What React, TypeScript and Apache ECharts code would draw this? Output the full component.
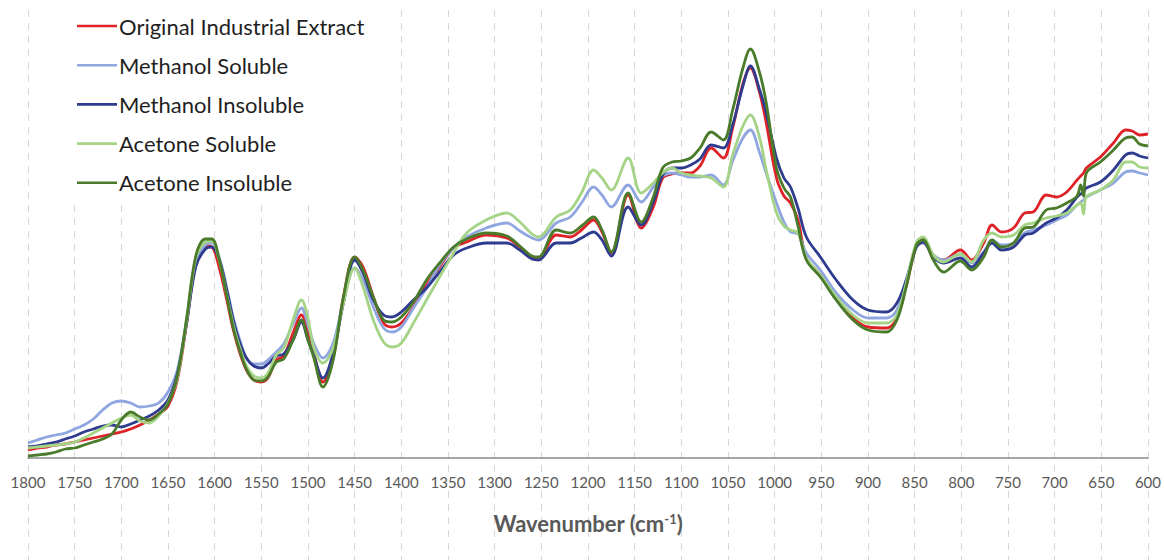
import React, { useEffect, useRef } from "react";
import * as echarts from "echarts";

// Wavenumber (cm-1) sample positions shared by all spectra
const wavenumbers = [
  1800, 1790, 1780, 1770, 1760, 1750, 1740, 1730, 1720, 1710, 1700, 1690, 1680, 1670, 1660, 1650, 1640, 1630, 1620, 1610,
  1603, 1595, 1587, 1580, 1573, 1566, 1558, 1550, 1543, 1534, 1526, 1516, 1507, 1500, 1494, 1484, 1473, 1462, 1450, 1441,
  1430, 1419, 1410, 1400, 1387, 1373, 1359, 1344, 1330, 1309, 1287, 1273, 1260, 1253, 1234, 1219, 1207, 1194, 1185, 1175,
  1157, 1143, 1130, 1120, 1110, 1100, 1090, 1080, 1068, 1055, 1045, 1034, 1026, 1016, 1009, 998, 990, 983, 975, 966,
  951, 934, 916, 900, 880, 869, 859, 848, 841, 830, 819, 801, 789, 776, 767, 757, 744, 732, 723, 709,
  698, 687, 676, 672, 669, 666, 651, 637, 624, 617, 609, 600,
];

// Absorbance (arbitrary units) for each fraction
const originalExtract = [
  8, 10, 11, 13, 14, 16, 18, 20, 22, 24, 26, 29, 33, 38, 44, 52, 78, 135, 195, 212,
  211, 190, 158, 128, 105, 88, 78, 76, 80, 98, 102, 125, 143, 125, 105, 76, 101, 161, 201, 191,
  161, 135, 131, 135, 151, 173, 191, 210, 216, 223, 220, 211, 201, 200, 223, 221, 228, 238, 226, 205,
  263, 230, 251, 280, 284, 285, 285, 292, 310, 300, 330, 374, 390, 365, 335, 280, 262, 255, 238, 200,
  183, 160, 140, 131, 130, 140, 172, 213, 220, 203, 198, 208, 198, 215, 233, 226, 230, 245, 246, 263,
  261, 266, 278, 282, 285, 290, 301, 315, 328, 327, 323, 324,
];
const methanolSoluble = [
  15, 18, 21, 23, 25, 29, 33, 39, 48, 55, 57, 55, 51, 52, 55, 66, 88, 138, 196, 213,
  215, 200, 170, 140, 118, 100, 94, 94, 98, 106, 114, 134, 150, 133, 115, 100, 115, 157, 190, 178,
  151, 130, 126, 131, 150, 170, 193, 210, 221, 230, 235, 227, 220, 218, 235, 241, 255, 271, 263, 251,
  273, 256, 271, 282, 285, 283, 281, 281, 283, 273, 297, 320, 328, 305, 285, 255, 236, 226, 224, 205,
  188, 165, 148, 140, 140, 148, 178, 212, 215, 203, 198, 204, 195, 206, 218, 213, 215, 225, 228, 233,
  238, 243, 253, 256, 258, 261, 268, 275, 286, 287, 285, 283,
];
const methanolInsoluble = [
  11, 12, 14, 16, 19, 22, 26, 29, 32, 33, 31, 34, 38, 42, 48, 58, 84, 135, 192, 209,
  211, 198, 168, 138, 115, 100, 92, 90, 94, 102, 104, 118, 136, 118, 103, 80, 105, 155, 198, 185,
  158, 143, 141, 146, 158, 170, 186, 203, 210, 215, 215, 208, 199, 198, 215, 215, 220, 226, 218, 202,
  251, 233, 256, 283, 290, 290, 293, 299, 313, 310, 333, 372, 392, 368, 345, 300, 280, 271, 250, 221,
  201, 178, 158, 148, 146, 155, 178, 211, 216, 201, 195, 200, 191, 205, 215, 208, 211, 223, 225, 235,
  240, 248, 261, 264, 266, 270, 276, 288, 303, 305, 302, 300,
];
const acetoneSoluble = [
  10, 11, 12, 13, 14, 16, 20, 25, 30, 35, 40, 43, 37, 35, 42, 55, 80, 138, 200, 216,
  217, 197, 163, 133, 110, 92, 82, 80, 85, 103, 110, 138, 158, 140, 111, 95, 110, 155, 190, 171,
  138, 116, 111, 115, 135, 158, 181, 205, 225, 238, 245, 236, 224, 221, 241, 248, 265, 288, 280, 268,
  300, 265, 275, 285, 290, 285, 283, 282, 280, 271, 303, 332, 343, 320, 288, 245, 232, 228, 225, 200,
  183, 161, 143, 135, 135, 143, 175, 216, 221, 203, 196, 204, 196, 218, 225, 221, 223, 233, 235, 240,
  242, 245, 253, 255, 244, 261, 268, 278, 296, 296, 291, 290,
];
const acetoneInsoluble = [
  2, 3, 4, 6, 9, 10, 13, 16, 19, 24, 38, 46, 41, 38, 44, 54, 82, 140, 203, 219,
  219, 198, 162, 130, 107, 89, 78, 77, 81, 96, 99, 118, 138, 118, 101, 71, 98, 161, 201, 188,
  161, 138, 136, 141, 156, 178, 195, 211, 219, 225, 222, 212, 202, 201, 228, 225, 232, 241, 228, 206,
  265, 236, 261, 290, 296, 297, 300, 310, 326, 318, 348, 390, 409, 385, 355, 290, 270, 261, 232, 198,
  181, 158, 138, 128, 126, 138, 171, 213, 218, 198, 186, 197, 188, 201, 218, 211, 215, 230, 231, 248,
  250, 255, 262, 273, 262, 285, 296, 308, 320, 321, 314, 312,
];

const seriesNames = [
  "Original Industrial Extract",
  "Methanol Soluble",
  "Methanol Insoluble",
  "Acetone Soluble",
  "Acetone Insoluble",
];
const seriesValues = [originalExtract, methanolSoluble, methanolInsoluble, acetoneSoluble, acetoneInsoluble];
const seriesColors = ["#de2228", "#8fa6e0", "#2e3b8e", "#a5d487", "#4a7b2b"];

const xMin = 600;
const xMax = 1800;
const xStep = 50;

export default function App() {
  const ref = useRef<HTMLDivElement>(null);

  useEffect(() => {
    if (!ref.current) return;
    const chart = echarts.init(ref.current, undefined, { renderer: "svg" });
    const font = "Lato, 'Noto Sans', sans-serif";

    chart.setOption({
      animation: false,
      backgroundColor: "#ffffff",
      legend: {
        orient: "vertical",
        left: 68,
        top: 3,
        padding: [12, 14, 10, 9],
        backgroundColor: "#ffffff",
        itemWidth: 40,
        itemHeight: 14,
        itemGap: 17.2,
        data: seriesNames.map((name, i) => ({
          name,
          icon: "path://M0,6 L40,6 L40,8.6 L0,8.6 Z",
          itemStyle: { color: seriesColors[i] },
        })),
        textStyle: { fontFamily: font, fontSize: 22, color: "#1f1f1f", lineHeight: 21.5, padding: [0, 0, 0, -3] },
        z: 10,
      },
      grid: [
        { left: 28, right: 16, top: 10, bottom: 0 },
        { left: 28, right: 16, top: 13, bottom: 102 },
      ],
      xAxis: [
        {
          gridIndex: 0,
          type: "value",
          min: xMin,
          max: xMax,
          interval: xStep,
          inverse: true,
          axisLine: { show: false },
          axisTick: { show: false },
          axisLabel: { show: false },
          splitLine: { show: true, lineStyle: { color: "#d6d6d6", width: 1, type: [7, 6] } },
        },
        {
          gridIndex: 1,
          type: "value",
          min: xMin,
          max: xMax,
          interval: xStep,
          inverse: true,
          axisLine: { show: true, lineStyle: { color: "#8a8a8a", width: 1.5 } },
          axisTick: { show: false },
          splitLine: { show: false },
          axisLabel: {
            fontFamily: font,
            fontSize: 15,
            color: "#595959",
            margin: 16,
            backgroundColor: "#ffffff",
            formatter: (v: number) => String(v),
          },
          name: "Wavenumber (cm{sup|-1})",
          nameLocation: "middle",
          nameGap: 54,
          nameTextStyle: {
            fontFamily: font,
            fontSize: 22,
            fontWeight: "bold",
            color: "#595959",
            rich: {
              sup: { fontFamily: font, fontSize: 13, fontWeight: "bold", color: "#595959", verticalAlign: "top", lineHeight: 13, padding: [0, 0, 11, 0] },
            },
          },
        },
      ],
      yAxis: [
        { gridIndex: 0, type: "value", show: false, min: 0, max: 1 },
        { gridIndex: 1, type: "value", show: false, min: 0, max: 445 },
      ],
      series: seriesNames.map((name, i) => ({
        name,
        type: "line",
        xAxisIndex: 1,
        yAxisIndex: 1,
        symbol: "none",
        smooth: 0.35,
        lineStyle: { color: seriesColors[i], width: 2.8 },
        itemStyle: { color: seriesColors[i] },
        data: wavenumbers.map((w, k) => [w, seriesValues[i][k]]),
      })),
    });

    return () => chart.dispose();
  }, []);

  return <div ref={ref} style={{ position: "fixed", left: 0, top: 0, width: 1164, height: 560 }} />;
}
